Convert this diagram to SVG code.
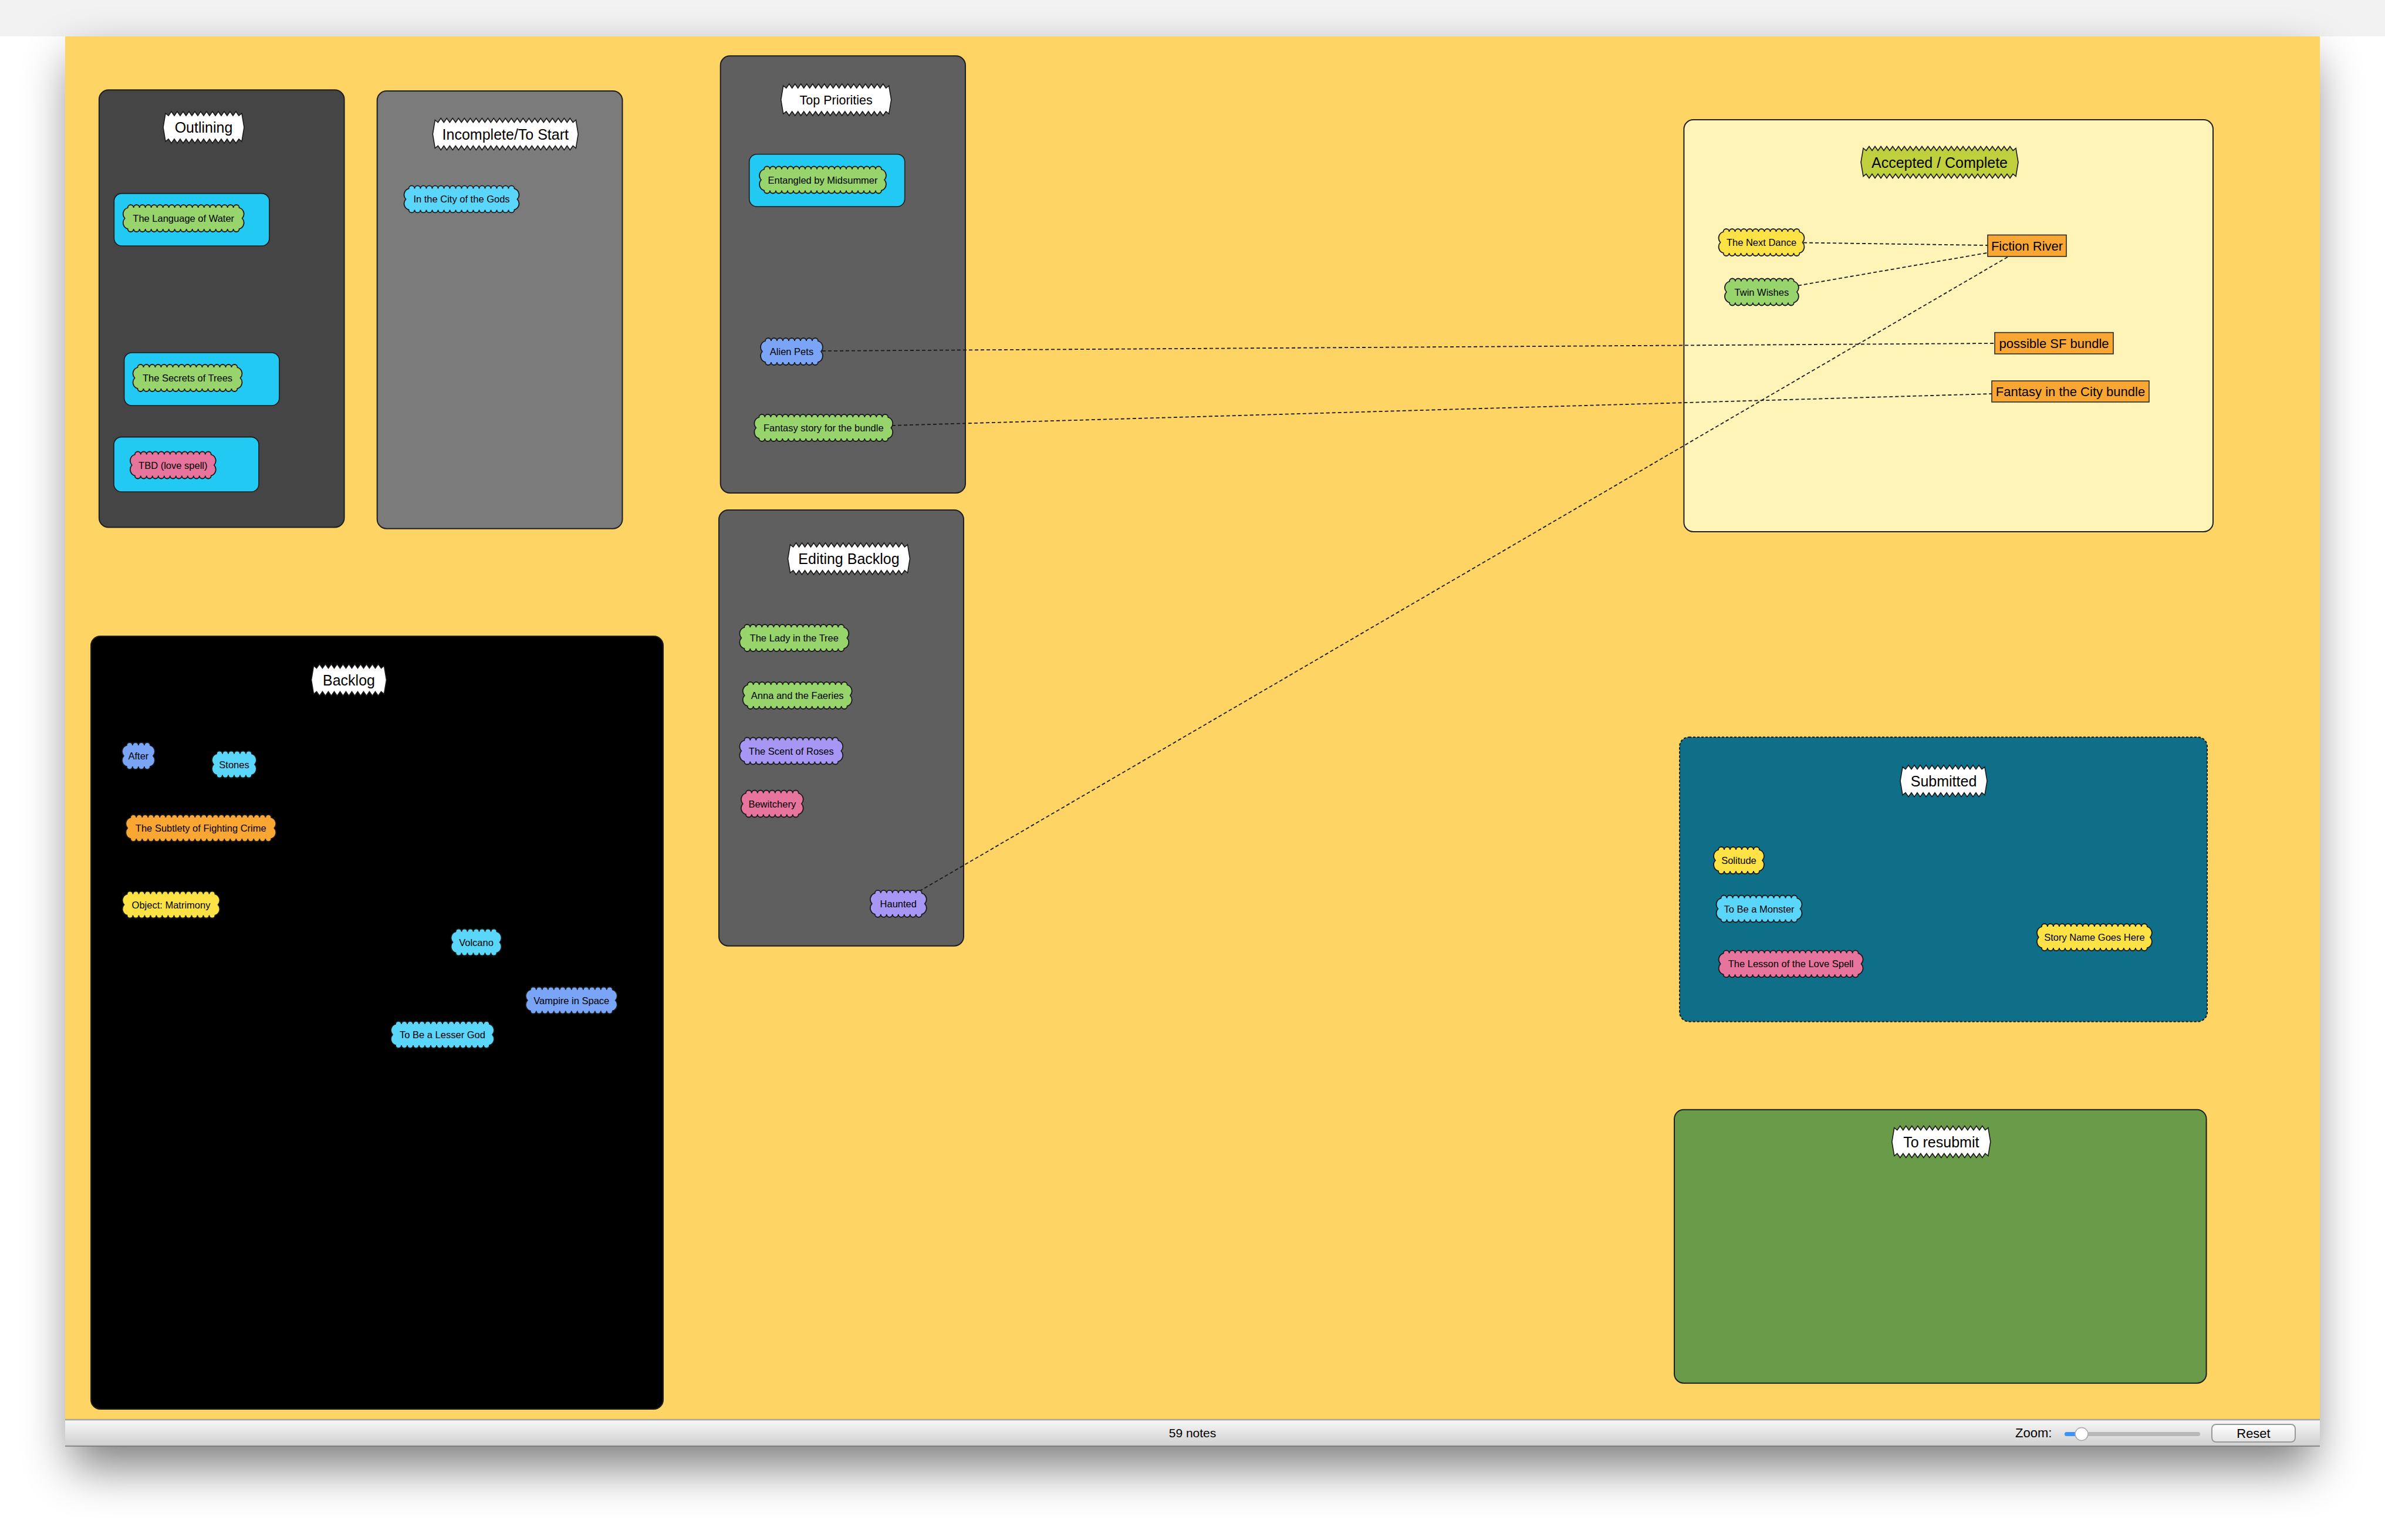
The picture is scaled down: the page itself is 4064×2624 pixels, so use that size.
<svg xmlns="http://www.w3.org/2000/svg" xmlns:xlink="http://www.w3.org/1999/xlink" width="4064" height="2624" viewBox="0 0 4064 2624">
<style>
.box{stroke:#1e1e1e;stroke-width:2}
.cl{stroke:#1a1a1a;stroke-width:1.8}
.lbl{fill:#fff;stroke:#1a1a1a;stroke-width:1.6}
.lbla{fill:#c0cf3c;stroke:#1a1a1a;stroke-width:1.6}
.card{fill:#22c9f3;stroke:#1a1a1a;stroke-width:1.6}
.orect{fill:#f9a732;stroke:#2a2a2a;stroke-width:1.6}
.t{font-family:"Liberation Sans",Arial,Helvetica,sans-serif;fill:#000;text-anchor:middle}
.ts{font-size:16.5px}
.tt{font-size:25px}
.to{font-size:22px}
.conn{fill:none;stroke:#1a1a1a;stroke-width:1.8;stroke-dasharray:6 4}
.green{fill:#97d46b}
.ltc{fill:#5bd6fb}
.blue{fill:#7aa4f6}
.purp{fill:#a796f4}
.pink{fill:#e6749c}
.yel{fill:#fce245}
.org{fill:#f9a732}
</style>
<defs>
<filter id="sh" x="-10%" y="-10%" width="120%" height="130%"><feGaussianBlur stdDeviation="40"/></filter>
<linearGradient id="sb" x1="0" y1="0" x2="0" y2="1"><stop offset="0" stop-color="#f8f8f8"/><stop offset="1" stop-color="#d0d0d0"/></linearGradient>
<linearGradient id="btn" x1="0" y1="0" x2="0" y2="1"><stop offset="0" stop-color="#ffffff"/><stop offset="1" stop-color="#e2e2e2"/></linearGradient>
<path id="c4" class="cl" d="M0 0
a5 5 0 0 1 10 0a5 5 0 0 1 10 0a5 5 0 0 1 10 0a5 5 0 0 1 10 0
a11 11 0 0 1 5 18a11 11 0 0 1 -5 18
a5 5 0 0 1 -10 0a5 5 0 0 1 -10 0a5 5 0 0 1 -10 0a5 5 0 0 1 -10 0
a11 11 0 0 1 -5 -18a11 11 0 0 1 5 -18z"/>
<path id="c6" class="cl" d="M0 0
a5 5 0 0 1 10 0a5 5 0 0 1 10 0a5 5 0 0 1 10 0a5 5 0 0 1 10 0a5 5 0 0 1 10 0
a5 5 0 0 1 10 0
a11 11 0 0 1 5 18a11 11 0 0 1 -5 18
a5 5 0 0 1 -10 0a5 5 0 0 1 -10 0a5 5 0 0 1 -10 0a5 5 0 0 1 -10 0a5 5 0 0 1 -10 0
a5 5 0 0 1 -10 0
a11 11 0 0 1 -5 -18a11 11 0 0 1 5 -18z"/>
<path id="c7" class="cl" d="M0 0
a5 5 0 0 1 10 0a5 5 0 0 1 10 0a5 5 0 0 1 10 0a5 5 0 0 1 10 0a5 5 0 0 1 10 0
a5 5 0 0 1 10 0a5 5 0 0 1 10 0
a11 11 0 0 1 5 18a11 11 0 0 1 -5 18
a5 5 0 0 1 -10 0a5 5 0 0 1 -10 0a5 5 0 0 1 -10 0a5 5 0 0 1 -10 0a5 5 0 0 1 -10 0
a5 5 0 0 1 -10 0a5 5 0 0 1 -10 0
a11 11 0 0 1 -5 -18a11 11 0 0 1 5 -18z"/>
<path id="c8" class="cl" d="M0 0
a5 5 0 0 1 10 0a5 5 0 0 1 10 0a5 5 0 0 1 10 0a5 5 0 0 1 10 0a5 5 0 0 1 10 0
a5 5 0 0 1 10 0a5 5 0 0 1 10 0a5 5 0 0 1 10 0
a11 11 0 0 1 5 18a11 11 0 0 1 -5 18
a5 5 0 0 1 -10 0a5 5 0 0 1 -10 0a5 5 0 0 1 -10 0a5 5 0 0 1 -10 0a5 5 0 0 1 -10 0
a5 5 0 0 1 -10 0a5 5 0 0 1 -10 0a5 5 0 0 1 -10 0
a11 11 0 0 1 -5 -18a11 11 0 0 1 5 -18z"/>
<path id="c9" class="cl" d="M0 0
a5 5 0 0 1 10 0a5 5 0 0 1 10 0a5 5 0 0 1 10 0a5 5 0 0 1 10 0a5 5 0 0 1 10 0
a5 5 0 0 1 10 0a5 5 0 0 1 10 0a5 5 0 0 1 10 0a5 5 0 0 1 10 0
a11 11 0 0 1 5 18a11 11 0 0 1 -5 18
a5 5 0 0 1 -10 0a5 5 0 0 1 -10 0a5 5 0 0 1 -10 0a5 5 0 0 1 -10 0a5 5 0 0 1 -10 0
a5 5 0 0 1 -10 0a5 5 0 0 1 -10 0a5 5 0 0 1 -10 0a5 5 0 0 1 -10 0
a11 11 0 0 1 -5 -18a11 11 0 0 1 5 -18z"/>
<path id="c11" class="cl" d="M0 0
a5 5 0 0 1 10 0a5 5 0 0 1 10 0a5 5 0 0 1 10 0a5 5 0 0 1 10 0a5 5 0 0 1 10 0
a5 5 0 0 1 10 0a5 5 0 0 1 10 0a5 5 0 0 1 10 0a5 5 0 0 1 10 0a5 5 0 0 1 10 0
a5 5 0 0 1 10 0
a11 11 0 0 1 5 18a11 11 0 0 1 -5 18
a5 5 0 0 1 -10 0a5 5 0 0 1 -10 0a5 5 0 0 1 -10 0a5 5 0 0 1 -10 0a5 5 0 0 1 -10 0
a5 5 0 0 1 -10 0a5 5 0 0 1 -10 0a5 5 0 0 1 -10 0a5 5 0 0 1 -10 0a5 5 0 0 1 -10 0
a5 5 0 0 1 -10 0
a11 11 0 0 1 -5 -18a11 11 0 0 1 5 -18z"/>
<path id="c13" class="cl" d="M0 0
a5 5 0 0 1 10 0a5 5 0 0 1 10 0a5 5 0 0 1 10 0a5 5 0 0 1 10 0a5 5 0 0 1 10 0
a5 5 0 0 1 10 0a5 5 0 0 1 10 0a5 5 0 0 1 10 0a5 5 0 0 1 10 0a5 5 0 0 1 10 0
a5 5 0 0 1 10 0a5 5 0 0 1 10 0a5 5 0 0 1 10 0
a11 11 0 0 1 5 18a11 11 0 0 1 -5 18
a5 5 0 0 1 -10 0a5 5 0 0 1 -10 0a5 5 0 0 1 -10 0a5 5 0 0 1 -10 0a5 5 0 0 1 -10 0
a5 5 0 0 1 -10 0a5 5 0 0 1 -10 0a5 5 0 0 1 -10 0a5 5 0 0 1 -10 0a5 5 0 0 1 -10 0
a5 5 0 0 1 -10 0a5 5 0 0 1 -10 0a5 5 0 0 1 -10 0
a11 11 0 0 1 -5 -18a11 11 0 0 1 5 -18z"/>
<path id="c14" class="cl" d="M0 0
a5 5 0 0 1 10 0a5 5 0 0 1 10 0a5 5 0 0 1 10 0a5 5 0 0 1 10 0a5 5 0 0 1 10 0
a5 5 0 0 1 10 0a5 5 0 0 1 10 0a5 5 0 0 1 10 0a5 5 0 0 1 10 0a5 5 0 0 1 10 0
a5 5 0 0 1 10 0a5 5 0 0 1 10 0a5 5 0 0 1 10 0a5 5 0 0 1 10 0
a11 11 0 0 1 5 18a11 11 0 0 1 -5 18
a5 5 0 0 1 -10 0a5 5 0 0 1 -10 0a5 5 0 0 1 -10 0a5 5 0 0 1 -10 0a5 5 0 0 1 -10 0
a5 5 0 0 1 -10 0a5 5 0 0 1 -10 0a5 5 0 0 1 -10 0a5 5 0 0 1 -10 0a5 5 0 0 1 -10 0
a5 5 0 0 1 -10 0a5 5 0 0 1 -10 0a5 5 0 0 1 -10 0a5 5 0 0 1 -10 0
a11 11 0 0 1 -5 -18a11 11 0 0 1 5 -18z"/>
<path id="c15" class="cl" d="M0 0
a5 5 0 0 1 10 0a5 5 0 0 1 10 0a5 5 0 0 1 10 0a5 5 0 0 1 10 0a5 5 0 0 1 10 0
a5 5 0 0 1 10 0a5 5 0 0 1 10 0a5 5 0 0 1 10 0a5 5 0 0 1 10 0a5 5 0 0 1 10 0
a5 5 0 0 1 10 0a5 5 0 0 1 10 0a5 5 0 0 1 10 0a5 5 0 0 1 10 0a5 5 0 0 1 10 0
a11 11 0 0 1 5 18a11 11 0 0 1 -5 18
a5 5 0 0 1 -10 0a5 5 0 0 1 -10 0a5 5 0 0 1 -10 0a5 5 0 0 1 -10 0a5 5 0 0 1 -10 0
a5 5 0 0 1 -10 0a5 5 0 0 1 -10 0a5 5 0 0 1 -10 0a5 5 0 0 1 -10 0a5 5 0 0 1 -10 0
a5 5 0 0 1 -10 0a5 5 0 0 1 -10 0a5 5 0 0 1 -10 0a5 5 0 0 1 -10 0a5 5 0 0 1 -10 0
a11 11 0 0 1 -5 -18a11 11 0 0 1 5 -18z"/>
<path id="c16" class="cl" d="M0 0
a5 5 0 0 1 10 0a5 5 0 0 1 10 0a5 5 0 0 1 10 0a5 5 0 0 1 10 0a5 5 0 0 1 10 0
a5 5 0 0 1 10 0a5 5 0 0 1 10 0a5 5 0 0 1 10 0a5 5 0 0 1 10 0a5 5 0 0 1 10 0
a5 5 0 0 1 10 0a5 5 0 0 1 10 0a5 5 0 0 1 10 0a5 5 0 0 1 10 0a5 5 0 0 1 10 0
a5 5 0 0 1 10 0
a11 11 0 0 1 5 18a11 11 0 0 1 -5 18
a5 5 0 0 1 -10 0a5 5 0 0 1 -10 0a5 5 0 0 1 -10 0a5 5 0 0 1 -10 0a5 5 0 0 1 -10 0
a5 5 0 0 1 -10 0a5 5 0 0 1 -10 0a5 5 0 0 1 -10 0a5 5 0 0 1 -10 0a5 5 0 0 1 -10 0
a5 5 0 0 1 -10 0a5 5 0 0 1 -10 0a5 5 0 0 1 -10 0a5 5 0 0 1 -10 0a5 5 0 0 1 -10 0
a5 5 0 0 1 -10 0
a11 11 0 0 1 -5 -18a11 11 0 0 1 5 -18z"/>
<path id="c17" class="cl" d="M0 0
a5 5 0 0 1 10 0a5 5 0 0 1 10 0a5 5 0 0 1 10 0a5 5 0 0 1 10 0a5 5 0 0 1 10 0
a5 5 0 0 1 10 0a5 5 0 0 1 10 0a5 5 0 0 1 10 0a5 5 0 0 1 10 0a5 5 0 0 1 10 0
a5 5 0 0 1 10 0a5 5 0 0 1 10 0a5 5 0 0 1 10 0a5 5 0 0 1 10 0a5 5 0 0 1 10 0
a5 5 0 0 1 10 0a5 5 0 0 1 10 0
a11 11 0 0 1 5 18a11 11 0 0 1 -5 18
a5 5 0 0 1 -10 0a5 5 0 0 1 -10 0a5 5 0 0 1 -10 0a5 5 0 0 1 -10 0a5 5 0 0 1 -10 0
a5 5 0 0 1 -10 0a5 5 0 0 1 -10 0a5 5 0 0 1 -10 0a5 5 0 0 1 -10 0a5 5 0 0 1 -10 0
a5 5 0 0 1 -10 0a5 5 0 0 1 -10 0a5 5 0 0 1 -10 0a5 5 0 0 1 -10 0a5 5 0 0 1 -10 0
a5 5 0 0 1 -10 0a5 5 0 0 1 -10 0
a11 11 0 0 1 -5 -18a11 11 0 0 1 5 -18z"/>
<path id="c18" class="cl" d="M0 0
a5 5 0 0 1 10 0a5 5 0 0 1 10 0a5 5 0 0 1 10 0a5 5 0 0 1 10 0a5 5 0 0 1 10 0
a5 5 0 0 1 10 0a5 5 0 0 1 10 0a5 5 0 0 1 10 0a5 5 0 0 1 10 0a5 5 0 0 1 10 0
a5 5 0 0 1 10 0a5 5 0 0 1 10 0a5 5 0 0 1 10 0a5 5 0 0 1 10 0a5 5 0 0 1 10 0
a5 5 0 0 1 10 0a5 5 0 0 1 10 0a5 5 0 0 1 10 0
a11 11 0 0 1 5 18a11 11 0 0 1 -5 18
a5 5 0 0 1 -10 0a5 5 0 0 1 -10 0a5 5 0 0 1 -10 0a5 5 0 0 1 -10 0a5 5 0 0 1 -10 0
a5 5 0 0 1 -10 0a5 5 0 0 1 -10 0a5 5 0 0 1 -10 0a5 5 0 0 1 -10 0a5 5 0 0 1 -10 0
a5 5 0 0 1 -10 0a5 5 0 0 1 -10 0a5 5 0 0 1 -10 0a5 5 0 0 1 -10 0a5 5 0 0 1 -10 0
a5 5 0 0 1 -10 0a5 5 0 0 1 -10 0a5 5 0 0 1 -10 0
a11 11 0 0 1 -5 -18a11 11 0 0 1 5 -18z"/>
<path id="c19" class="cl" d="M0 0
a5 5 0 0 1 10 0a5 5 0 0 1 10 0a5 5 0 0 1 10 0a5 5 0 0 1 10 0a5 5 0 0 1 10 0
a5 5 0 0 1 10 0a5 5 0 0 1 10 0a5 5 0 0 1 10 0a5 5 0 0 1 10 0a5 5 0 0 1 10 0
a5 5 0 0 1 10 0a5 5 0 0 1 10 0a5 5 0 0 1 10 0a5 5 0 0 1 10 0a5 5 0 0 1 10 0
a5 5 0 0 1 10 0a5 5 0 0 1 10 0a5 5 0 0 1 10 0a5 5 0 0 1 10 0
a11 11 0 0 1 5 18a11 11 0 0 1 -5 18
a5 5 0 0 1 -10 0a5 5 0 0 1 -10 0a5 5 0 0 1 -10 0a5 5 0 0 1 -10 0a5 5 0 0 1 -10 0
a5 5 0 0 1 -10 0a5 5 0 0 1 -10 0a5 5 0 0 1 -10 0a5 5 0 0 1 -10 0a5 5 0 0 1 -10 0
a5 5 0 0 1 -10 0a5 5 0 0 1 -10 0a5 5 0 0 1 -10 0a5 5 0 0 1 -10 0a5 5 0 0 1 -10 0
a5 5 0 0 1 -10 0a5 5 0 0 1 -10 0a5 5 0 0 1 -10 0a5 5 0 0 1 -10 0
a11 11 0 0 1 -5 -18a11 11 0 0 1 5 -18z"/>
<path id="c20" class="cl" d="M0 0
a5 5 0 0 1 10 0a5 5 0 0 1 10 0a5 5 0 0 1 10 0a5 5 0 0 1 10 0a5 5 0 0 1 10 0
a5 5 0 0 1 10 0a5 5 0 0 1 10 0a5 5 0 0 1 10 0a5 5 0 0 1 10 0a5 5 0 0 1 10 0
a5 5 0 0 1 10 0a5 5 0 0 1 10 0a5 5 0 0 1 10 0a5 5 0 0 1 10 0a5 5 0 0 1 10 0
a5 5 0 0 1 10 0a5 5 0 0 1 10 0a5 5 0 0 1 10 0a5 5 0 0 1 10 0a5 5 0 0 1 10 0
a11 11 0 0 1 5 18a11 11 0 0 1 -5 18
a5 5 0 0 1 -10 0a5 5 0 0 1 -10 0a5 5 0 0 1 -10 0a5 5 0 0 1 -10 0a5 5 0 0 1 -10 0
a5 5 0 0 1 -10 0a5 5 0 0 1 -10 0a5 5 0 0 1 -10 0a5 5 0 0 1 -10 0a5 5 0 0 1 -10 0
a5 5 0 0 1 -10 0a5 5 0 0 1 -10 0a5 5 0 0 1 -10 0a5 5 0 0 1 -10 0a5 5 0 0 1 -10 0
a5 5 0 0 1 -10 0a5 5 0 0 1 -10 0a5 5 0 0 1 -10 0a5 5 0 0 1 -10 0a5 5 0 0 1 -10 0
a11 11 0 0 1 -5 -18a11 11 0 0 1 5 -18z"/>
<path id="c22" class="cl" d="M0 0
a5 5 0 0 1 10 0a5 5 0 0 1 10 0a5 5 0 0 1 10 0a5 5 0 0 1 10 0a5 5 0 0 1 10 0
a5 5 0 0 1 10 0a5 5 0 0 1 10 0a5 5 0 0 1 10 0a5 5 0 0 1 10 0a5 5 0 0 1 10 0
a5 5 0 0 1 10 0a5 5 0 0 1 10 0a5 5 0 0 1 10 0a5 5 0 0 1 10 0a5 5 0 0 1 10 0
a5 5 0 0 1 10 0a5 5 0 0 1 10 0a5 5 0 0 1 10 0a5 5 0 0 1 10 0a5 5 0 0 1 10 0
a5 5 0 0 1 10 0a5 5 0 0 1 10 0
a11 11 0 0 1 5 18a11 11 0 0 1 -5 18
a5 5 0 0 1 -10 0a5 5 0 0 1 -10 0a5 5 0 0 1 -10 0a5 5 0 0 1 -10 0a5 5 0 0 1 -10 0
a5 5 0 0 1 -10 0a5 5 0 0 1 -10 0a5 5 0 0 1 -10 0a5 5 0 0 1 -10 0a5 5 0 0 1 -10 0
a5 5 0 0 1 -10 0a5 5 0 0 1 -10 0a5 5 0 0 1 -10 0a5 5 0 0 1 -10 0a5 5 0 0 1 -10 0
a5 5 0 0 1 -10 0a5 5 0 0 1 -10 0a5 5 0 0 1 -10 0a5 5 0 0 1 -10 0a5 5 0 0 1 -10 0
a5 5 0 0 1 -10 0a5 5 0 0 1 -10 0
a11 11 0 0 1 -5 -18a11 11 0 0 1 5 -18z"/>
<path id="c23" class="cl" d="M0 0
a5 5 0 0 1 10 0a5 5 0 0 1 10 0a5 5 0 0 1 10 0a5 5 0 0 1 10 0a5 5 0 0 1 10 0
a5 5 0 0 1 10 0a5 5 0 0 1 10 0a5 5 0 0 1 10 0a5 5 0 0 1 10 0a5 5 0 0 1 10 0
a5 5 0 0 1 10 0a5 5 0 0 1 10 0a5 5 0 0 1 10 0a5 5 0 0 1 10 0a5 5 0 0 1 10 0
a5 5 0 0 1 10 0a5 5 0 0 1 10 0a5 5 0 0 1 10 0a5 5 0 0 1 10 0a5 5 0 0 1 10 0
a5 5 0 0 1 10 0a5 5 0 0 1 10 0a5 5 0 0 1 10 0
a11 11 0 0 1 5 18a11 11 0 0 1 -5 18
a5 5 0 0 1 -10 0a5 5 0 0 1 -10 0a5 5 0 0 1 -10 0a5 5 0 0 1 -10 0a5 5 0 0 1 -10 0
a5 5 0 0 1 -10 0a5 5 0 0 1 -10 0a5 5 0 0 1 -10 0a5 5 0 0 1 -10 0a5 5 0 0 1 -10 0
a5 5 0 0 1 -10 0a5 5 0 0 1 -10 0a5 5 0 0 1 -10 0a5 5 0 0 1 -10 0a5 5 0 0 1 -10 0
a5 5 0 0 1 -10 0a5 5 0 0 1 -10 0a5 5 0 0 1 -10 0a5 5 0 0 1 -10 0a5 5 0 0 1 -10 0
a5 5 0 0 1 -10 0a5 5 0 0 1 -10 0a5 5 0 0 1 -10 0
a11 11 0 0 1 -5 -18a11 11 0 0 1 5 -18z"/>
<path id="c24" class="cl" d="M0 0
a5 5 0 0 1 10 0a5 5 0 0 1 10 0a5 5 0 0 1 10 0a5 5 0 0 1 10 0a5 5 0 0 1 10 0
a5 5 0 0 1 10 0a5 5 0 0 1 10 0a5 5 0 0 1 10 0a5 5 0 0 1 10 0a5 5 0 0 1 10 0
a5 5 0 0 1 10 0a5 5 0 0 1 10 0a5 5 0 0 1 10 0a5 5 0 0 1 10 0a5 5 0 0 1 10 0
a5 5 0 0 1 10 0a5 5 0 0 1 10 0a5 5 0 0 1 10 0a5 5 0 0 1 10 0a5 5 0 0 1 10 0
a5 5 0 0 1 10 0a5 5 0 0 1 10 0a5 5 0 0 1 10 0a5 5 0 0 1 10 0
a11 11 0 0 1 5 18a11 11 0 0 1 -5 18
a5 5 0 0 1 -10 0a5 5 0 0 1 -10 0a5 5 0 0 1 -10 0a5 5 0 0 1 -10 0a5 5 0 0 1 -10 0
a5 5 0 0 1 -10 0a5 5 0 0 1 -10 0a5 5 0 0 1 -10 0a5 5 0 0 1 -10 0a5 5 0 0 1 -10 0
a5 5 0 0 1 -10 0a5 5 0 0 1 -10 0a5 5 0 0 1 -10 0a5 5 0 0 1 -10 0a5 5 0 0 1 -10 0
a5 5 0 0 1 -10 0a5 5 0 0 1 -10 0a5 5 0 0 1 -10 0a5 5 0 0 1 -10 0a5 5 0 0 1 -10 0
a5 5 0 0 1 -10 0a5 5 0 0 1 -10 0a5 5 0 0 1 -10 0a5 5 0 0 1 -10 0
a11 11 0 0 1 -5 -18a11 11 0 0 1 5 -18z"/>
</defs>

<!-- window & background -->
<g id="window">
<rect x="0" y="0" width="4064" height="2624" fill="#ffffff"/>
<rect x="0" y="0" width="4064" height="62" fill="#f2f2f2"/>
<rect x="121" y="100" width="3822" height="2400" fill="#000" opacity="0.5" filter="url(#sh)"/>
<rect x="111" y="62" width="3842" height="2356" fill="#fed465"/>
</g>

<!-- containers -->
<g id="outlining">
<rect class="box" x="168.9" y="153.3" width="417.7" height="745.2" rx="16" fill="#454545"/>
<path class="lbl" d="M282 193l5 4
 5 -7 5 7 5 -7 5 7 5 -7 5 7 5 -7 5 7
 5 -7 5 7 5 -7 5 7 5 -7 5 7 5 -7 5 7
 5 -7 5 7 5 -7 5 7 5 -7 5 7 5 -7 5 7
 5 -4 4 24 -4 24 -5 -4
 -5 7 -5 -7 -5 7 -5 -7 -5 7 -5 -7 -5 7 -5 -7
 -5 7 -5 -7 -5 7 -5 -7 -5 7 -5 -7 -5 7 -5 -7
 -5 7 -5 -7 -5 7 -5 -7 -5 7 -5 -7 -5 7 -5 -7
 -5 4 -4 -24z"/>
<text class="t tt" x="347" y="226">Outlining</text>
</g>

<g id="incomplete">
<rect class="box" x="642.7" y="155" width="417.8" height="745.7" rx="16" fill="#7b7b7b"/>
<path class="lbl" d="M741.3 204.5l5 4
 5 -7 5 7 5 -7 5 7 5 -7 5 7 5 -7 5 7
 5 -7 5 7 5 -7 5 7 5 -7 5 7 5 -7 5 7
 5 -7 5 7 5 -7 5 7 5 -7 5 7 5 -7 5 7
 5 -7 5 7 5 -7 5 7 5 -7 5 7 5 -7 5 7
 5 -7 5 7 5 -7 5 7 5 -7 5 7 5 -7 5 7
 5 -7 5 7 5 -7 5 7 5 -7 5 7
 5 -4 4 24 -4 24 -5 -4
 -5 7 -5 -7 -5 7 -5 -7 -5 7 -5 -7 -5 7 -5 -7
 -5 7 -5 -7 -5 7 -5 -7 -5 7 -5 -7 -5 7 -5 -7
 -5 7 -5 -7 -5 7 -5 -7 -5 7 -5 -7 -5 7 -5 -7
 -5 7 -5 -7 -5 7 -5 -7 -5 7 -5 -7 -5 7 -5 -7
 -5 7 -5 -7 -5 7 -5 -7 -5 7 -5 -7 -5 7 -5 -7
 -5 7 -5 -7 -5 7 -5 -7 -5 7 -5 -7
 -5 4 -4 -24z"/>
<text class="t tt" x="861.3" y="237.5">Incomplete/To Start</text>
</g>

<g id="top-priorities">
<rect class="box" x="1227.7" y="95.3" width="417.3" height="744.7" rx="16" fill="#5f5f5f"/>
<path class="lbl" d="M1334.7 146l5 4
 5 -7 5 7 5 -7 5 7 5 -7 5 7 5 -7 5 7
 5 -7 5 7 5 -7 5 7 5 -7 5 7 5 -7 5 7
 5 -7 5 7 5 -7 5 7 5 -7 5 7 5 -7 5 7
 5 -7 5 7 5 -7 5 7 5 -7 5 7 5 -7 5 7
 5 -7 5 7
 5 -4 4 24 -4 24 -5 -4
 -5 7 -5 -7 -5 7 -5 -7 -5 7 -5 -7 -5 7 -5 -7
 -5 7 -5 -7 -5 7 -5 -7 -5 7 -5 -7 -5 7 -5 -7
 -5 7 -5 -7 -5 7 -5 -7 -5 7 -5 -7 -5 7 -5 -7
 -5 7 -5 -7 -5 7 -5 -7 -5 7 -5 -7 -5 7 -5 -7
 -5 7 -5 -7
 -5 4 -4 -24z"/>
<text class="t" style="font-size:21.5px" x="1424.7" y="178">Top Priorities</text>
</g>

<g id="editing-backlog">
<rect class="box" x="1225" y="869" width="417" height="742.7" rx="16" fill="#5f5f5f"/>
<path class="lbl" d="M1346.5 928l5 4
 5 -7 5 7 5 -7 5 7 5 -7 5 7 5 -7 5 7
 5 -7 5 7 5 -7 5 7 5 -7 5 7 5 -7 5 7
 5 -7 5 7 5 -7 5 7 5 -7 5 7 5 -7 5 7
 5 -7 5 7 5 -7 5 7 5 -7 5 7 5 -7 5 7
 5 -7 5 7 5 -7 5 7 5 -7 5 7
 5 -4 4 24 -4 24 -5 -4
 -5 7 -5 -7 -5 7 -5 -7 -5 7 -5 -7 -5 7 -5 -7
 -5 7 -5 -7 -5 7 -5 -7 -5 7 -5 -7 -5 7 -5 -7
 -5 7 -5 -7 -5 7 -5 -7 -5 7 -5 -7 -5 7 -5 -7
 -5 7 -5 -7 -5 7 -5 -7 -5 7 -5 -7 -5 7 -5 -7
 -5 7 -5 -7 -5 7 -5 -7 -5 7 -5 -7
 -5 4 -4 -24z"/>
<text class="t tt" x="1446.5" y="961">Editing Backlog</text>
</g>

<g id="backlog">
<rect class="box" x="155" y="1084" width="975" height="1317" rx="16" fill="#000000"/>
<path class="lbl" d="M534.5 1134.5l5 4
 5 -7 5 7 5 -7 5 7 5 -7 5 7 5 -7 5 7
 5 -7 5 7 5 -7 5 7 5 -7 5 7 5 -7 5 7
 5 -7 5 7 5 -7 5 7 5 -7 5 7
 5 -4 4 24 -4 24 -5 -4
 -5 7 -5 -7 -5 7 -5 -7 -5 7 -5 -7 -5 7 -5 -7
 -5 7 -5 -7 -5 7 -5 -7 -5 7 -5 -7 -5 7 -5 -7
 -5 7 -5 -7 -5 7 -5 -7 -5 7 -5 -7
 -5 4 -4 -24z"/>
<text class="t tt" x="594.5" y="1167.5">Backlog</text>
</g>

<g id="accepted">
<rect class="box" x="2869.4" y="204" width="901.6" height="702" rx="16" fill="#fff4b8"/>
<path class="lbla" d="M3175 252.5l5 4
 5 -7 5 7 5 -7 5 7 5 -7 5 7 5 -7 5 7
 5 -7 5 7 5 -7 5 7 5 -7 5 7 5 -7 5 7
 5 -7 5 7 5 -7 5 7 5 -7 5 7 5 -7 5 7
 5 -7 5 7 5 -7 5 7 5 -7 5 7 5 -7 5 7
 5 -7 5 7 5 -7 5 7 5 -7 5 7 5 -7 5 7
 5 -7 5 7 5 -7 5 7 5 -7 5 7 5 -7 5 7
 5 -7 5 7
 5 -4 4 24 -4 24 -5 -4
 -5 7 -5 -7 -5 7 -5 -7 -5 7 -5 -7 -5 7 -5 -7
 -5 7 -5 -7 -5 7 -5 -7 -5 7 -5 -7 -5 7 -5 -7
 -5 7 -5 -7 -5 7 -5 -7 -5 7 -5 -7 -5 7 -5 -7
 -5 7 -5 -7 -5 7 -5 -7 -5 7 -5 -7 -5 7 -5 -7
 -5 7 -5 -7 -5 7 -5 -7 -5 7 -5 -7 -5 7 -5 -7
 -5 7 -5 -7 -5 7 -5 -7 -5 7 -5 -7 -5 7 -5 -7
 -5 7 -5 -7
 -5 4 -4 -24z"/>
<text class="t tt" x="3305" y="285.5">Accepted / Complete</text>
</g>

<g id="submitted">
<rect x="2862" y="1256" width="899" height="484.7" rx="16" fill="#0f6f88" stroke="#1a1a1a" stroke-width="2" stroke-dasharray="4 3"/>
<path class="lbl" d="M3242 1306.7l5 4
 5 -7 5 7 5 -7 5 7 5 -7 5 7 5 -7 5 7
 5 -7 5 7 5 -7 5 7 5 -7 5 7 5 -7 5 7
 5 -7 5 7 5 -7 5 7 5 -7 5 7 5 -7 5 7
 5 -7 5 7
 5 -4 4 24 -4 24 -5 -4
 -5 7 -5 -7 -5 7 -5 -7 -5 7 -5 -7 -5 7 -5 -7
 -5 7 -5 -7 -5 7 -5 -7 -5 7 -5 -7 -5 7 -5 -7
 -5 7 -5 -7 -5 7 -5 -7 -5 7 -5 -7 -5 7 -5 -7
 -5 7 -5 -7
 -5 4 -4 -24z"/>
<text class="t tt" x="3312" y="1339.7">Submitted</text>
</g>

<g id="to-resubmit">
<rect class="box" x="2853" y="1890.7" width="906.6" height="466" rx="16" fill="#6a9b48"/>
<path class="lbl" d="M3227.8 1921.5l5 4
 5 -7 5 7 5 -7 5 7 5 -7 5 7 5 -7 5 7
 5 -7 5 7 5 -7 5 7 5 -7 5 7 5 -7 5 7
 5 -7 5 7 5 -7 5 7 5 -7 5 7 5 -7 5 7
 5 -7 5 7 5 -7 5 7 5 -7 5 7
 5 -4 4 24 -4 24 -5 -4
 -5 7 -5 -7 -5 7 -5 -7 -5 7 -5 -7 -5 7 -5 -7
 -5 7 -5 -7 -5 7 -5 -7 -5 7 -5 -7 -5 7 -5 -7
 -5 7 -5 -7 -5 7 -5 -7 -5 7 -5 -7 -5 7 -5 -7
 -5 7 -5 -7 -5 7 -5 -7 -5 7 -5 -7
 -5 4 -4 -24z"/>
<text class="t tt" x="3307.8" y="1954.5">To resubmit</text>
</g>

<!-- connectors -->
<g id="connectors">
<line class="conn" x1="3073" y1="413.5" x2="3387" y2="418"/>
<line class="conn" x1="3064" y1="486.6" x2="3387" y2="430.7"/>
<line class="conn" x1="1401" y1="598" x2="3399" y2="585"/>
<line class="conn" x1="1520" y1="725" x2="3394" y2="671"/>
<line class="conn" x1="1566.7" y1="1518.4" x2="3422.5" y2="437"/>
</g>

<!-- notes -->
<g id="n-language-of-water">
<rect class="card" x="194.4" y="329.6" width="264.6" height="89.4" rx="13"/>
<use href="#c19" xlink:href="#c19" x="217.7" y="354" class="green"/>
<text class="t ts" x="312.7" y="378">The Language of Water</text>
</g>
<g id="n-secrets-of-trees">
<rect class="card" x="211.6" y="601" width="264.4" height="90" rx="13"/>
<use href="#c17" xlink:href="#c17" x="234.5" y="626" class="green"/>
<text class="t ts" x="319.5" y="650">The Secrets of Trees</text>
</g>
<g id="n-tbd-love-spell">
<rect class="card" x="194" y="744.6" width="247" height="93.4" rx="13"/>
<use href="#c13" xlink:href="#c13" x="229.8" y="774.5" class="pink"/>
<text class="t ts" x="294.8" y="798.5">TBD (love spell)</text>
</g>
<g id="n-city-of-the-gods">
<use href="#c18" xlink:href="#c18" x="696.5" y="321.4" class="ltc"/>
<text class="t ts" x="786.5" y="345.4">In the City of the Gods</text>
</g>
<g id="n-entangled">
<rect class="card" x="1276.7" y="262.7" width="265" height="89.3" rx="13"/>
<use href="#c20" xlink:href="#c20" x="1302" y="288.5" class="green"/>
<text class="t ts" x="1402" y="312.5">Entangled by Midsummer</text>
</g>
<g id="n-alien-pets">
<use href="#c9" xlink:href="#c9" x="1304" y="581" class="blue"/>
<text class="t ts" x="1349" y="605">Alien Pets</text>
</g>
<g id="n-fantasy-story">
<use href="#c22" xlink:href="#c22" x="1293.3" y="711" class="green"/>
<text class="t ts" x="1403.3" y="735">Fantasy story for the bundle</text>
</g>
<g id="n-lady-in-the-tree">
<use href="#c17" xlink:href="#c17" x="1268.3" y="1069" class="green"/>
<text class="t ts" x="1353.3" y="1093">The Lady in the Tree</text>
</g>
<g id="n-anna">
<use href="#c17" xlink:href="#c17" x="1273.7" y="1167" class="green"/>
<text class="t ts" x="1358.7" y="1191">Anna and the Faeries</text>
</g>
<g id="n-scent-of-roses">
<use href="#c16" xlink:href="#c16" x="1268.3" y="1261.5" class="purp"/>
<text class="t ts" x="1348.3" y="1285.5">The Scent of Roses</text>
</g>
<g id="n-bewitchery">
<use href="#c9" xlink:href="#c9" x="1270.8" y="1351.5" class="pink"/>
<text class="t ts" x="1315.8" y="1375.5">Bewitchery</text>
</g>
<g id="n-haunted">
<use href="#c8" xlink:href="#c8" x="1490.8" y="1521.8" class="purp"/>
<text class="t ts" x="1530.8" y="1545.8">Haunted</text>
</g>
<g id="n-after">
<use href="#c4" xlink:href="#c4" x="215.9" y="1270" class="blue"/>
<text class="t ts" x="235.9" y="1294">After</text>
</g>
<g id="n-stones">
<use href="#c6" xlink:href="#c6" x="369" y="1284.5" class="ltc"/>
<text class="t ts" x="399" y="1308.5">Stones</text>
</g>
<g id="n-subtlety">
<use href="#c24" xlink:href="#c24" x="222.3" y="1393" class="org"/>
<text class="t ts" x="342.3" y="1417">The Subtlety of Fighting Crime</text>
</g>
<g id="n-object-matrimony">
<use href="#c15" xlink:href="#c15" x="216.5" y="1523.5" class="yel"/>
<text class="t ts" x="291.5" y="1547.5">Object: Matrimony</text>
</g>
<g id="n-volcano">
<use href="#c7" xlink:href="#c7" x="776.5" y="1587.5" class="ltc"/>
<text class="t ts" x="811.5" y="1611.5">Volcano</text>
</g>
<g id="n-vampire">
<use href="#c14" xlink:href="#c14" x="903.8" y="1686.5" class="blue"/>
<text class="t ts" x="973.8" y="1710.5">Vampire in Space</text>
</g>
<g id="n-lesser-god">
<use href="#c16" xlink:href="#c16" x="674" y="1745" class="ltc"/>
<text class="t ts" x="754" y="1769">To Be a Lesser God</text>
</g>
<g id="n-next-dance">
<use href="#c13" xlink:href="#c13" x="2936.5" y="395" class="yel"/>
<text class="t ts" x="3001.5" y="419">The Next Dance</text>
</g>
<g id="n-twin-wishes">
<use href="#c11" xlink:href="#c11" x="2946.9" y="479.5" class="green"/>
<text class="t ts" x="3001.9" y="503.5">Twin Wishes</text>
</g>
<g id="n-solitude">
<use href="#c7" xlink:href="#c7" x="2928" y="1448" class="yel"/>
<text class="t ts" x="2963" y="1472">Solitude</text>
</g>
<g id="n-to-be-a-monster">
<use href="#c13" xlink:href="#c13" x="2932.5" y="1530.5" class="ltc"/>
<text class="t ts" x="2997.5" y="1554.5">To Be a Monster</text>
</g>
<g id="n-lesson">
<use href="#c23" xlink:href="#c23" x="2936.6" y="1624.3" class="pink"/>
<text class="t ts" x="3051.6" y="1648.3">The Lesson of the Love Spell</text>
</g>
<g id="n-story-name">
<use href="#c18" xlink:href="#c18" x="3478.9" y="1579" class="yel"/>
<text class="t ts" x="3568.9" y="1603">Story Name Goes Here</text>
</g>
<g id="n-fiction-river">
<rect class="orect" x="3387" y="400.4" width="134" height="36.6"/>
<text class="t to" x="3454" y="426.6">Fiction River</text>
</g>
<g id="n-sf-bundle">
<rect class="orect" x="3399" y="566.6" width="202" height="36.4"/>
<text class="t to" x="3500" y="592.7">possible SF bundle</text>
</g>
<g id="n-city-bundle">
<rect class="orect" x="3394" y="649" width="268" height="36"/>
<text class="t to" x="3528" y="675">Fantasy in the City bundle</text>
</g>

<!-- status bar -->
<g id="status-bar">
<rect x="111" y="2418" width="3842" height="46" fill="url(#sb)"/>
<line x1="111" y1="2419" x2="3953" y2="2419" stroke="#a5a5a5" stroke-width="2.5"/>
<line x1="111" y1="2464" x2="3953" y2="2464" stroke="#707070" stroke-width="1.5"/>
<text class="t" style="font-size:21px" x="2032" y="2449">59 notes</text>
<text class="t" style="font-size:22px;text-anchor:start" x="3434" y="2449">Zoom:</text>
<rect x="3518" y="2440" width="231" height="7" rx="3.5" fill="#b8b8b8"/>
<rect x="3518" y="2440" width="30" height="7" rx="3.5" fill="#3d93f5"/>
<circle cx="3547" cy="2443.5" r="11" fill="#ffffff" stroke="#a8a8a8" stroke-width="1.5"/>
<rect x="3769" y="2427" width="142" height="30" rx="7" fill="url(#btn)" stroke="#999999" stroke-width="2"/>
<text class="t" style="font-size:22px" x="3840" y="2450">Reset</text>
</g>
</svg>
